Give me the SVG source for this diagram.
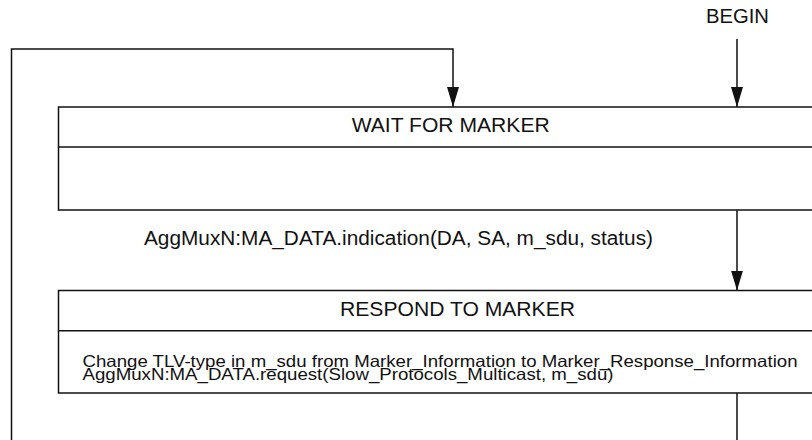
<svg xmlns="http://www.w3.org/2000/svg" width="812" height="440" viewBox="0 0 812 440">
<style>
.ln{fill:none;stroke:#111;stroke-width:1.5}
.box{fill:#fff;stroke:#111;stroke-width:1.5}
.t{font-family:"Liberation Sans",Arial,Helvetica,sans-serif;fill:#111}
.h{font-size:20px}
.s{font-size:16.5px}
</style>
<defs>
<marker id="arr" viewBox="0 0 20 12" refX="20" refY="6" markerWidth="20" markerHeight="12" markerUnits="userSpaceOnUse" orient="auto">
<path d="M0,0 L20,6 L0,12 Z" fill="#111"/>
</marker>
</defs>
<rect width="812" height="440" fill="#fff"/>
<g id="connectors">
<path class="ln" d="M737,39 L737,107" marker-end="url(#arr)"/>
<path class="ln" d="M11.5,445 L11.5,49 L453,49 L453,107" marker-end="url(#arr)"/>
<path class="ln" d="M737,210 L737,290.5" marker-end="url(#arr)"/>
<path class="ln" d="M737,393 L737,445"/>
<text class="t h" x="706" y="23.3" textLength="63" lengthAdjust="spacingAndGlyphs">BEGIN</text>
<text class="t h" x="144" y="245" textLength="509" lengthAdjust="spacingAndGlyphs">AggMuxN:MA_DATA.indication(DA, SA, m_sdu, status)</text>
</g>
<g id="wait_for_marker">
<rect class="box" x="58.5" y="107" width="800" height="103"/>
<line class="ln" x1="58.5" y1="147" x2="858" y2="147"/>
<text class="t h" x="351.7" y="132.3" textLength="198" lengthAdjust="spacingAndGlyphs">WAIT FOR MARKER</text>
</g>
<g id="respond_to_marker">
<rect class="box" x="58.5" y="290.5" width="800" height="102.5"/>
<line class="ln" x1="58.5" y1="330.7" x2="858" y2="330.7"/>
<text class="t h" x="340" y="315.7" textLength="235" lengthAdjust="spacingAndGlyphs">RESPOND TO MARKER</text>
<text class="t s" x="82.5" y="367" textLength="715" lengthAdjust="spacingAndGlyphs">Change TLV-type in m_sdu from Marker_Information to Marker_Response_Information</text>
<text class="t s" x="82.5" y="380" textLength="531" lengthAdjust="spacingAndGlyphs">AggMuxN:MA_DATA.request(Slow_Protocols_Multicast, m_sdu)</text>
</g>
</svg>
